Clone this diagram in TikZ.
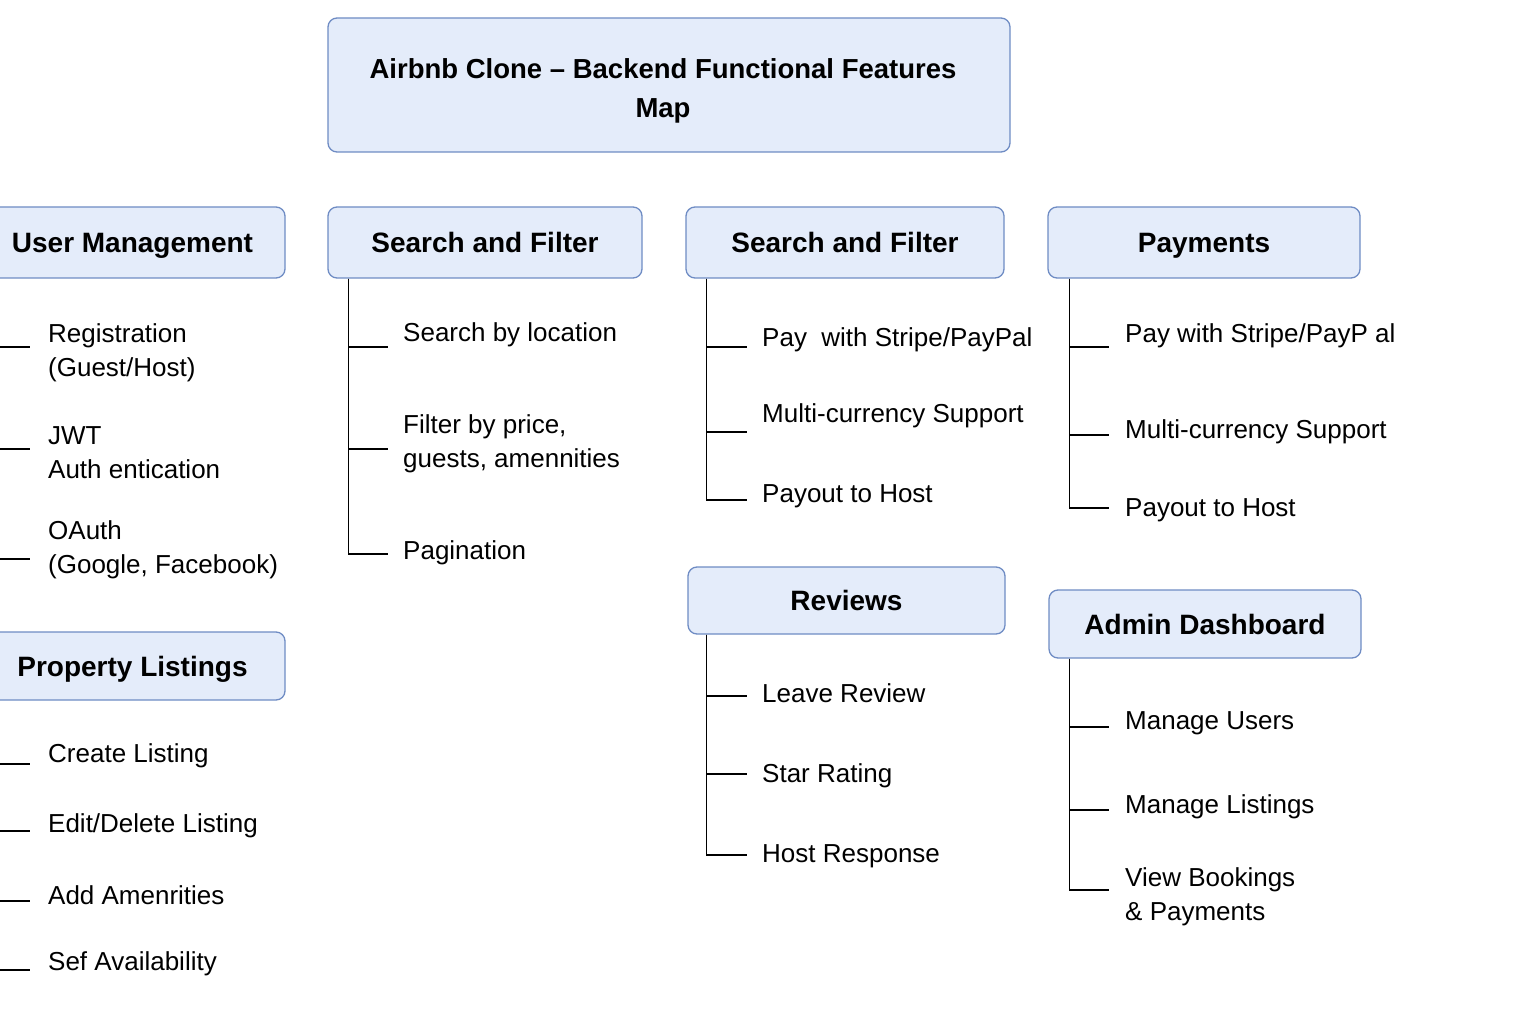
\documentclass[tikz,border=0pt]{standalone}
\usepackage{fontspec}
\setmainfont{Liberation Sans}
\definecolor{boxfill}{HTML}{E4ECFA}
\definecolor{boxline}{HTML}{6F8CC4}
\begin{document}
\begin{tikzpicture}[x=1pt,y=-1pt,
  hbox/.style={draw=boxline, fill=boxfill, line width=1.3pt, rounded corners=9pt,
    font=\fontsize{28}{33}\selectfont\bfseries, inner sep=0, text height=20pt, text depth=0pt},
  item/.style={anchor=west, inner sep=0, align=left, yshift=-3pt, font=\fontsize{26}{34}\selectfont},
  conn/.style={line width=1.4pt, black}]
\useasboundingbox (0,0) rectangle (1536,1024);
\fill[white] (0,0) rectangle (1536,1024);

% title
\node[draw=boxline, fill=boxfill, line width=1.3pt, rounded corners=9pt, inner sep=0,
  minimum width=682, minimum height=134] (title) at (669,85) {};
\node[align=center, inner sep=0, font=\fontsize{27.5}{39}\selectfont\bfseries] (titletext) at (663,91)
  {Airbnb Clone – Backend Functional Features\\Map};

% headers
\node[hbox, minimum width=305, minimum height=71] (um) at (132.5,242.5) {User Management};
\node[hbox, minimum width=314, minimum height=71] (sf1) at (485,242.5) {Search and Filter};
\node[hbox, minimum width=318, minimum height=71] (sf2) at (845,242.5) {Search and Filter};
\node[hbox, minimum width=312, minimum height=71] (pay) at (1204,242.5) {Payments};
\node[hbox, minimum width=305, minimum height=68] (pl) at (132.5,666) {Property Listings};
\node[hbox, minimum width=317, minimum height=67] (rev) at (846.5,600.5) {Reviews};
\node[hbox, minimum width=312, minimum height=68] (adm) at (1205,624) {Admin Dashboard};

% User Management items
\node[item] (u1) at (48,350) {Registration\\(Guest/Host)};
\node[item] (u2) at (48,450) {JWT\\Auth entication};
\node[item] (u3) at (48,546.5) {OAuth\\(Google, Facebook)};
\coordinate (u1a) at (-5,347); \coordinate (u1b) at (30,347);
\coordinate (u2a) at (-5,449); \coordinate (u2b) at (30,449);
\coordinate (u3a) at (-5,559); \coordinate (u3b) at (30,559);
\draw[conn] (u1a) -- (u1b);
\draw[conn] (u2a) -- (u2b);
\draw[conn] (u3a) -- (u3b);

% Property Listings items
\node[item] (p1) at (48,753) {Create Listing};
\node[item] (p2) at (48,823) {Edit/Delete Listing};
\node[item] (p3) at (48,892) {Add Amenrities};
\node[item] (p4) at (48,961) {Sef Availability};
\coordinate (p1a) at (-5,764); \coordinate (p1b) at (30,764);
\coordinate (p2a) at (-5,831); \coordinate (p2b) at (30,831);
\coordinate (p3a) at (-5,901); \coordinate (p3b) at (30,901);
\coordinate (p4a) at (-5,970); \coordinate (p4b) at (30,970);
\draw[conn] (p1a) -- (p1b);
\draw[conn] (p2a) -- (p2b);
\draw[conn] (p3a) -- (p3b);
\draw[conn] (p4a) -- (p4b);

% Search and Filter 1 items
\node[item] (s1) at (403,332) {Search by location};
\node[item] (s2) at (403,440.5) {Filter by price,\\guests, amennities};
\node[item] (s3) at (403,550) {Pagination};
\coordinate (s1c) at (388,347);
\coordinate (s2c) at (388,449);
\coordinate (s3c) at (388,554);
\draw[conn] ([xshift=21]sf1.south west) |- (s1c);
\draw[conn] ([xshift=21]sf1.south west) |- (s2c);
\draw[conn] ([xshift=21]sf1.south west) |- (s3c);

% Search and Filter 2 items
\node[item] (t1) at (762,337) {Pay\ \ with Stripe/PayPal};
\node[item] (t2) at (762,413) {Multi-currency Support};
\node[item] (t3) at (762,493) {Payout to Host};
\coordinate (t1c) at (747,347);
\coordinate (t2c) at (747,432);
\coordinate (t3c) at (747,500);
\draw[conn] ([xshift=21]sf2.south west) |- (t1c);
\draw[conn] ([xshift=21]sf2.south west) |- (t2c);
\draw[conn] ([xshift=21]sf2.south west) |- (t3c);

% Payments items
\node[item] (q1) at (1125,333) {Pay with Stripe/PayP al};
\node[item] (q2) at (1125,429) {Multi-currency Support};
\node[item] (q3) at (1125,507) {Payout to Host};
\coordinate (q1c) at (1109,347);
\coordinate (q2c) at (1109,435);
\coordinate (q3c) at (1109,508);
\draw[conn] ([xshift=22]pay.south west) |- (q1c);
\draw[conn] ([xshift=22]pay.south west) |- (q2c);
\draw[conn] ([xshift=22]pay.south west) |- (q3c);

% Reviews items
\node[item] (r1) at (762,690) {Leave Review};
\node[item] (r2) at (762,773) {Star Rating};
\node[item] (r3) at (762,853) {Host Response};
\coordinate (r1c) at (747,696);
\coordinate (r2c) at (747,774);
\coordinate (r3c) at (747,855);
\draw[conn] ([xshift=19]rev.south west) |- (r1c);
\draw[conn] ([xshift=19]rev.south west) |- (r2c);
\draw[conn] ([xshift=19]rev.south west) |- (r3c);

% Admin items
\node[item] (a1) at (1125,720) {Manage Users};
\node[item] (a2) at (1125,804) {Manage Listings};
\node[item] (a3) at (1125,893.5) {View Bookings\\\& Payments};
\coordinate (a1c) at (1109,727);
\coordinate (a2c) at (1109,810);
\coordinate (a3c) at (1109,890);
\draw[conn] ([xshift=21]adm.south west) |- (a1c);
\draw[conn] ([xshift=21]adm.south west) |- (a2c);
\draw[conn] ([xshift=21]adm.south west) |- (a3c);
\end{tikzpicture}
\end{document}
